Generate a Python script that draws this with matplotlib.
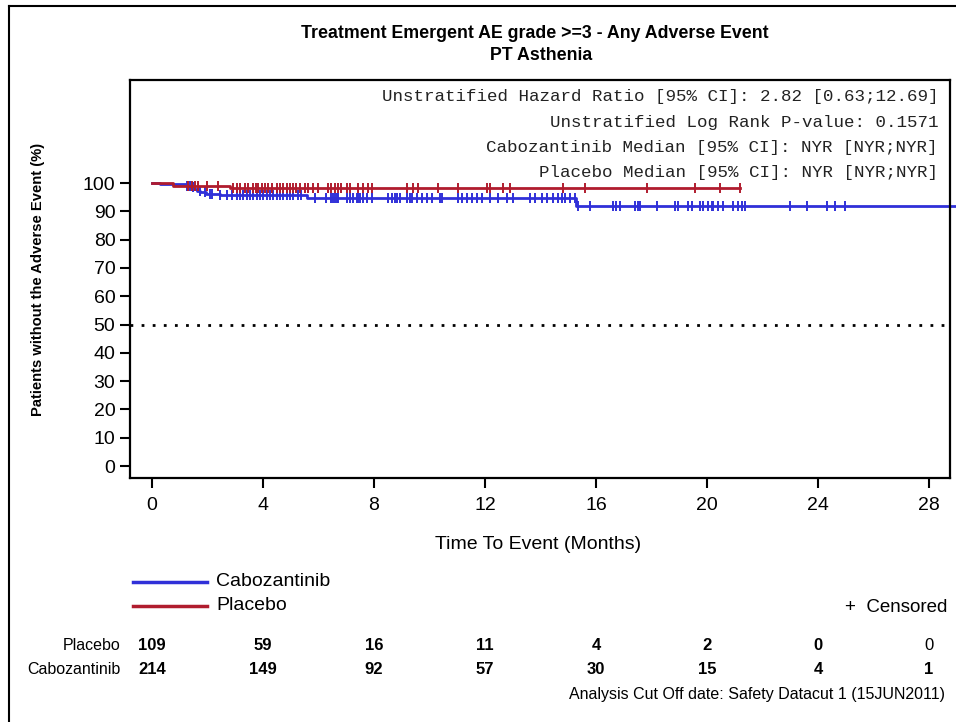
import numpy as np
import matplotlib.pyplot as plt
from matplotlib.lines import Line2D
from matplotlib.transforms import blended_transform_factory

plt.rcParams['font.family'] = ['Liberation Sans', 'DejaVu Sans']

# KM step curves: time (months), % patients without the event
cabo_t = [0, 0.3, 1.25, 1.4, 1.5, 1.62, 1.75, 1.95, 2.45, 5.6, 15.3, 29.0]
cabo_s = [100, 99.5, 99.0, 98.5, 97.9, 97.3, 96.7, 96.2, 95.7, 94.7, 91.8, 91.8]
plac_t = [0, 0.76, 2.8, 21.2]
plac_s = [100, 99.1, 98.2, 98.2]

# censoring times
cabo_cens = [1.25, 1.37, 1.49, 1.73, 1.91, 2.09, 2.15, 2.45, 2.69, 2.87, 3.05, 3.17,
             3.29, 3.41, 3.53, 3.65, 3.77, 3.89, 4.01, 4.13, 4.25, 4.37, 4.49, 4.61,
             4.73, 4.85, 4.97, 5.09, 5.27, 5.39, 5.87, 6.29, 6.47, 6.53, 6.59, 6.66,
             6.71, 7.02, 7.14, 7.26, 7.38, 7.43, 7.50, 7.61, 7.74, 7.92, 8.52, 8.64,
             8.76, 8.82, 8.94, 9.18, 9.30, 9.36, 9.54, 9.72, 9.90, 10.08, 10.38, 10.44,
             11.04, 11.16, 11.34, 11.52, 11.70, 11.88, 12.18, 12.48, 12.78, 13.02,
             13.62, 13.80, 14.04, 14.22, 14.46, 14.64, 14.76, 14.88, 15.06, 15.24,
             15.36, 15.78, 16.62, 16.74, 16.86, 17.41, 17.53, 17.59, 18.19, 18.85,
             18.97, 19.33, 19.45, 19.75, 19.87, 20.05, 20.17, 20.23, 20.41, 20.59,
             20.95, 21.13, 21.25, 21.37, 22.99, 23.59, 24.31, 24.61, 24.97]
plac_cens = [1.31, 1.43, 1.55, 1.67, 1.97, 2.39, 2.93, 3.05, 3.17, 3.35, 3.47, 3.65,
             3.75, 3.83, 3.95, 4.07, 4.19, 4.31, 4.49, 4.61, 4.73, 4.85, 4.97, 5.09,
             5.21, 5.33, 5.51, 5.63, 5.81, 5.99, 6.35, 6.47, 6.59, 6.71, 6.83, 7.02,
             7.14, 7.43, 7.61, 7.80, 7.92, 9.18, 9.42, 9.60, 10.32, 11.04, 12.06,
             12.18, 12.66, 12.90, 14.82, 15.60, 17.85, 19.57, 20.47, 21.19]

risk_times = [0, 4, 8, 12, 16, 20, 24, 28]
risk_plac = [109, 59, 16, 11, 4, 2, 0, 0]
risk_cabo = [214, 149, 92, 57, 30, 15, 4, 1]

stats_lines = ['Unstratified Hazard Ratio [95% CI]: 2.82 [0.63;12.69]',
               'Unstratified Log Rank P-value: 0.1571',
               'Cabozantinib Median [95% CI]: NYR [NYR;NYR]',
               'Placebo Median [95% CI]: NYR [NYR;NYR]']

blue = '#3030d8'
red = '#b01c2e'

W, H = 956, 722
fig = plt.figure(figsize=(W / 100, H / 100), dpi=100)
ax = fig.add_axes([130 / W, 1 - 478 / H, 820 / W, 398 / H])


def surv_at(t_steps, s_steps, times):
    idx = np.searchsorted(t_steps, times, side='right') - 1
    return np.array(s_steps)[idx]


ax.plot(cabo_t, cabo_s, drawstyle='steps-post', color=blue, lw=2, clip_on=False)
ax.plot(cabo_cens, surv_at(cabo_t, cabo_s, cabo_cens), ls='none', marker='|',
        ms=7, mew=1.4, color=blue)
ax.plot(plac_t, plac_s, drawstyle='steps-post', color=red, lw=2)
ax.plot(plac_cens, surv_at(plac_t, plac_s, plac_cens), ls='none', marker='|',
        ms=7, mew=1.4, color=red)

ax.axhline(50, color='black', ls=(0, (1, 3)), lw=2)

ax.set_xlim(-0.79, 28.76)
ax.set_ylim(-4.24, 136.4)
ax.set_xticks(risk_times)
ax.set_yticks(range(0, 101, 10))
ax.tick_params(direction='out', length=7, width=1.5, labelsize=14)
ax.tick_params(axis='x', pad=7)
for sp in ax.spines.values():
    sp.set_linewidth(1.6)

ax.set_xlabel('Time To Event (Months)', fontsize=14)
ax.xaxis.set_label_coords(0.4976, -0.146)
ax.set_ylabel('Patients without the Adverse Event (%)', fontsize=10.6, fontweight='bold')
ax.yaxis.set_label_coords(-0.104, 0.5)

fig.text(535 / W, 1 - 34 / H, 'Treatment Emergent AE grade >=3 - Any Adverse Event',
         ha='center', va='center', fontsize=12.8, fontweight='bold')
fig.text(541 / W, 1 - 56 / H, 'PT Asthenia', ha='center', va='center',
         fontsize=12.8, fontweight='bold')

for i, line in enumerate(stats_lines):
    fig.text(938 / W, 1 - (97 + 25.3 * i) / H, line, ha='right', va='center',
             fontsize=12.6, family='Liberation Mono', color='#222222')

# legend
for lab, col, y in [('Cabozantinib', blue, 582), ('Placebo', red, 606)]:
    fig.add_artist(Line2D([133 / W, 207 / W], [1 - y / H, 1 - y / H], color=col, lw=2.5))
    fig.text(216 / W, 1 - y / H, lab, ha='left', va='center', fontsize=14)
fig.text(947 / W, 1 - 608 / H, '+  Censored', ha='right', va='center', fontsize=13.5)

# numbers at risk
tr = blended_transform_factory(ax.transData, fig.transFigure)
for label, counts, y in [('Placebo', risk_plac, 645), ('Cabozantinib', risk_cabo, 669)]:
    fig.text(120 / W, 1 - y / H, label, ha='right', va='center', fontsize=11.5)
    for t, n in zip(risk_times, counts):
        wt = 'normal' if (label == 'Placebo' and t == 28) else 'bold'
        ax.text(t, 1 - y / H, str(n), transform=tr, ha='center', va='center',
                fontsize=12, fontweight=wt, clip_on=False)

fig.text(945 / W, 1 - 694 / H, 'Analysis Cut Off date: Safety Datacut 1 (15JUN2011)',
         ha='right', va='center', fontsize=11.5)

# page frame
fig.add_artist(Line2D([9 / W, 9 / W], [0, 1 - 6 / H], color='black', lw=1.5))
fig.add_artist(Line2D([9 / W, 1], [1 - 6 / H, 1 - 6 / H], color='black', lw=1.5))

fig.savefig('out.png', dpi=100)
